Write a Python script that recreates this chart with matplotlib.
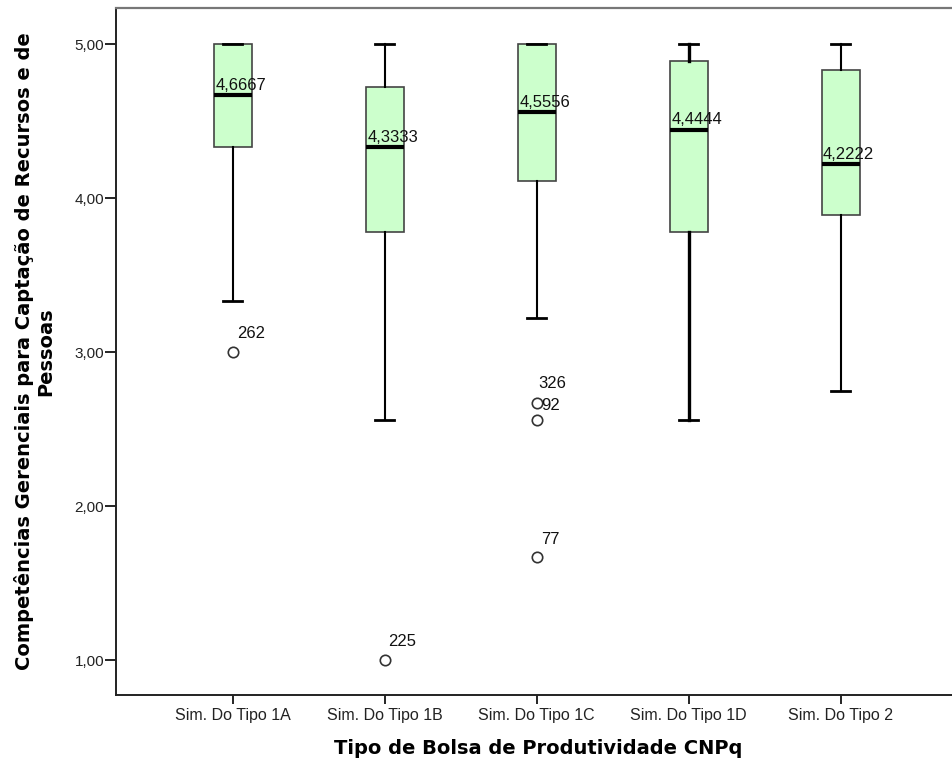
import matplotlib
matplotlib.use("Agg")
import matplotlib.pyplot as plt
from matplotlib.ticker import FuncFormatter

plt.rcParams['font.family'] = ['Liberation Sans', 'DejaVu Sans']

categories = ["Sim. Do Tipo 1A", "Sim. Do Tipo 1B", "Sim. Do Tipo 1C", "Sim. Do Tipo 1D", "Sim. Do Tipo 2"]
medians = [4.6667, 4.3333, 4.5556, 4.4444, 4.2222]
median_labels = ["4,6667", "4,3333", "4,5556", "4,4444", "4,2222"]
q1 = [4.3333, 3.7778, 4.1111, 3.7778, 3.8889]
q3 = [5.0, 4.7222, 5.0, 4.8889, 4.8333]
whisker_low = [3.3333, 2.5556, 3.2222, 2.5556, 2.75]
whisker_high = [5.0, 5.0, 5.0, 5.0, 5.0]

outlier_group = [0, 1, 2, 2, 2]
outlier_values = [3.0, 1.0, 2.6667, 2.5556, 1.6667]
outlier_labels = ["262", "225", "326", "92", "77"]
outlier_label_offsets = [(3, 13), (2, 13), (1, 14), (3, 11), (3, 13)]

yticks = [1.0, 2.0, 3.0, 4.0, 5.0]

fig = plt.figure(figsize=(9.53, 7.69), dpi=100)
ax = fig.add_axes([116/953, 1-695/769, 1-116/953, (695-8)/769])

stats = []
for i, c in enumerate(categories):
    stats.append(dict(med=medians[i], q1=q1[i], q3=q3[i],
                      whislo=whisker_low[i], whishi=whisker_high[i],
                      fliers=[v for g, v in zip(outlier_group, outlier_values) if g == i],
                      label=c))

bp = ax.bxp(stats, positions=range(len(categories)), widths=0.25, patch_artist=True,
            showfliers=True,
            boxprops=dict(facecolor="#ccffcc", edgecolor="#444444", linewidth=1.2),
            medianprops=dict(color="black", linewidth=3),
            whiskerprops=dict(color="black", linewidth=1.5),
            capprops=dict(color="black", linewidth=2.0),
            capwidths=0.125,
            flierprops=dict(marker="o", markerfacecolor="white", markeredgecolor="#333333",
                            markersize=7.5, markeredgewidth=1.2))
# the 1D whiskers are drawn heavier in the original
for ln in bp["whiskers"][6:8]:
    ln.set_linewidth(2.4)

for i, m in enumerate(medians):
    ax.annotate(median_labels[i], (i - 0.115, m), xytext=(0, 1.5), textcoords="offset points",
                ha="left", va="bottom", fontsize=12, color="#111111")

for g, v, lab, off in zip(outlier_group, outlier_values, outlier_labels, outlier_label_offsets):
    ax.annotate(lab, (g, v), xytext=off, textcoords="offset points",
                ha="left", va="center", fontsize=12, color="#111111")

ax.set_xlim(-0.77, 4.74)
ax.set_ylim(1 - 35/154, 5 + 36/154)
ax.set_yticks(yticks)
ax.yaxis.set_major_formatter(FuncFormatter(lambda v, p: f"{v:.2f}".replace(".", ",")))
ax.set_xticks(range(len(categories)))
ax.set_xticklabels(categories)
ax.tick_params(axis="both", width=1.2, colors="black", labelcolor="#222222")
ax.tick_params(axis="y", labelsize=11, length=8, pad=0.5)
ax.tick_params(axis="x", labelsize=11.5, length=6.5, pad=3)

for s in ["left", "bottom"]:
    ax.spines[s].set_linewidth(1.4)
    ax.spines[s].set_color("#222222")
ax.spines["top"].set_linewidth(1.6)
ax.spines["top"].set_color("#777777")
ax.spines["right"].set_visible(False)

ax.set_xlabel("Tipo de Bolsa de Produtividade CNPq", fontsize=14, fontweight="bold",
              family="DejaVu Sans")
ax.xaxis.set_label_coords(0.505, -0.064)
ax.xaxis.label.set_va("top")
ax.set_ylabel("Competências Gerenciais para Captação de Recursos e de\nPessoas", fontsize=14,
              fontweight="bold", family="DejaVu Sans", linespacing=1.1)
ax.yaxis.set_label_coords(-0.073, 0.5)

fig.savefig("out.png", dpi=100)
